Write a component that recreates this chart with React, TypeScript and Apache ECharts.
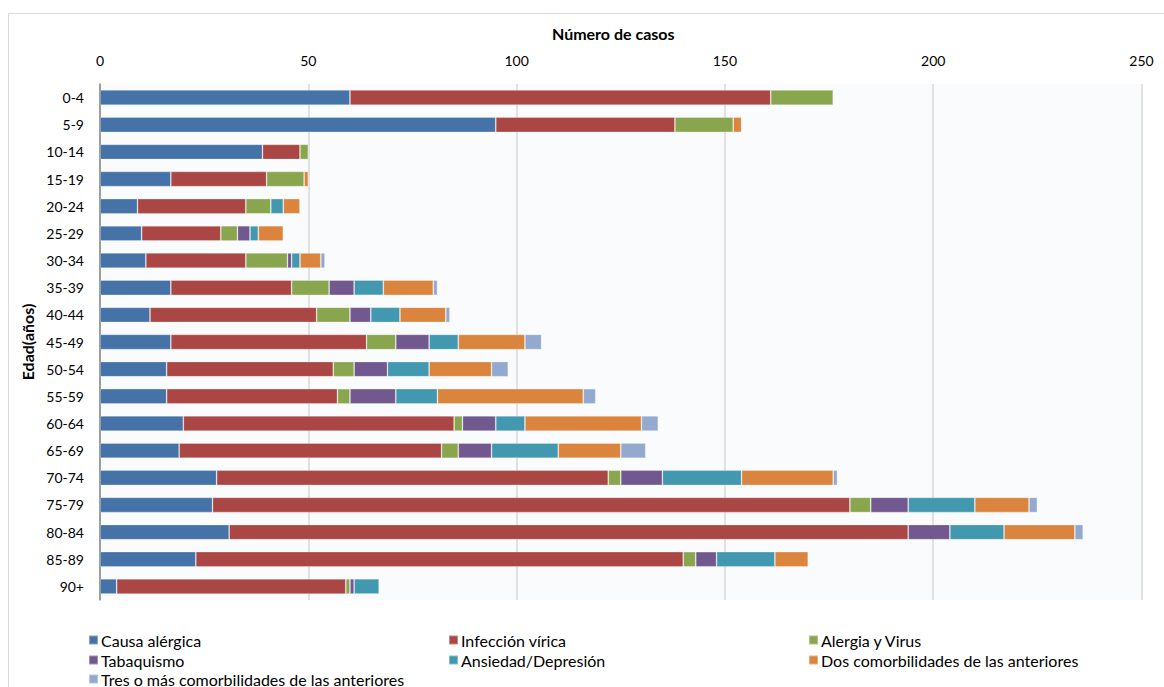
import React, { useEffect, useRef } from "react";
import * as echarts from "echarts";

// Age groups (top to bottom)
const ageGroups = [
  "0-4", "5-9", "10-14", "15-19", "20-24", "25-29", "30-34", "35-39", "40-44", "45-49",
  "50-54", "55-59", "60-64", "65-69", "70-74", "75-79", "80-84", "85-89", "90+",
];

// Number of cases per cause, one value per age group
const causaAlergica = [60, 95, 39, 17, 9, 10, 11, 17, 12, 17, 16, 16, 20, 19, 28, 27, 31, 23, 4];
const infeccionVirica = [101, 43, 9, 23, 26, 19, 24, 29, 40, 47, 40, 41, 65, 63, 94, 153, 163, 117, 55];
const alergiaVirus = [15, 14, 2, 9, 6, 4, 10, 9, 8, 7, 5, 3, 2, 4, 3, 5, 0, 3, 1];
const tabaquismo = [0, 0, 0, 0, 0, 3, 1, 6, 5, 8, 8, 11, 8, 8, 10, 9, 10, 5, 1];
const ansiedadDepresion = [0, 0, 0, 0, 3, 2, 2, 7, 7, 7, 10, 10, 7, 16, 19, 16, 13, 14, 6];
const dosComorbilidades = [0, 2, 0, 1, 4, 6, 5, 12, 11, 16, 15, 35, 28, 15, 22, 13, 17, 8, 0];
const tresComorbilidades = [0, 0, 0, 0, 0, 0, 1, 1, 1, 4, 4, 3, 4, 6, 1, 2, 2, 0, 0];

const xTicks = { min: 0, max: 250, interval: 50 };

const seriesDefs = [
  { name: "Causa alérgica", data: causaAlergica, color: "#4572A7" },
  { name: "Infección vírica", data: infeccionVirica, color: "#AA4643" },
  { name: "Alergia y Virus", data: alergiaVirus, color: "#89A54E" },
  { name: "Tabaquismo", data: tabaquismo, color: "#71588F" },
  { name: "Ansiedad/Depresión", data: ansiedadDepresion, color: "#4198AF" },
  { name: "Dos comorbilidades de las anteriores", data: dosComorbilidades, color: "#DB843D" },
  { name: "Tres o más comorbilidades de las anteriores", data: tresComorbilidades, color: "#93A9CF" },
];

const FONT = "Lato, 'Open Sans', sans-serif";

// Legend grid: three columns, filled row by row
const legendCols = [88, 448, 808];
const legendRows = [632, 652, 671];

export default function App() {
  const ref = useRef<HTMLDivElement>(null);

  useEffect(() => {
    if (!ref.current) return;
    const chart = echarts.init(ref.current, undefined, { renderer: "svg" });

    const legendText = { fontFamily: FONT, fontSize: 16, color: "#000", lineHeight: 16 };
    const legends = seriesDefs.map((s, i) => ({
      orient: "horizontal",
      left: legendCols[i % 3],
      top: legendRows[Math.floor(i / 3)],
      padding: 0,
      itemWidth: 9,
      itemHeight: 9,
      itemGap: 0,
      icon: "rect",
      textStyle: { ...legendText, padding: [0, 0, 0, -2] },
      selectedMode: false,
      data: [s.name],
    }));

    chart.setOption({
      animation: false,
      backgroundColor: "#ffffff",
      textStyle: { fontFamily: FONT },
      graphic: [
        {
          type: "rect",
          shape: { x: 8.5, y: 13.5, width: 1200, height: 700 },
          style: { fill: "none", stroke: "#d9d9d9", lineWidth: 1 },
          silent: true,
        },
      ],
      grid: {
        left: 100,
        right: 22.5,
        top: 84,
        bottom: 87,
        show: true,
        backgroundColor: "#f9fbfd",
        borderWidth: 0,
      },
      legend: legends,
      xAxis: {
        type: "value",
        position: "top",
        min: xTicks.min,
        max: xTicks.max,
        interval: xTicks.interval,
        name: "Número de casos",
        nameLocation: "middle",
        nameGap: 43,
        nameTextStyle: {
          fontFamily: FONT,
          fontSize: 16,
          fontWeight: "bold",
          color: "#000",
          padding: [0, 15, 0, 0],
        },
        axisLine: { show: false },
        axisTick: { show: false },
        axisLabel: { fontFamily: FONT, fontSize: 14, color: "#000", margin: 17 },
        splitLine: { show: true, lineStyle: { color: "#d9d9d9", width: 1.5 } },
      },
      yAxis: {
        type: "category",
        inverse: true,
        data: ageGroups,
        name: "Edad(años)",
        nameLocation: "middle",
        nameGap: 64,
        nameRotate: 90,
        nameTextStyle: { fontFamily: FONT, fontSize: 16, fontWeight: "bold", color: "#000" },
        axisLine: { show: true, lineStyle: { color: "#868686", width: 1.5 } },
        axisTick: { show: false },
        axisLabel: { fontFamily: FONT, fontSize: 14, color: "#000", margin: 16 },
        splitLine: { show: false },
      },
      series: seriesDefs.map((s) => ({
        name: s.name,
        type: "bar",
        stack: "total",
        barWidth: "56%",
        data: s.data.map((v) => (v === 0 ? null : v)),
        itemStyle: {
          color: s.color,
          borderColor: "rgba(255,255,255,0.35)",
          borderWidth: 0.8,
        },
      })),
    });

    return () => chart.dispose();
  }, []);

  return (
    <div
      ref={ref}
      style={{ position: "fixed", left: 0, top: 0, width: 1164, height: 687 }}
    />
  );
}
